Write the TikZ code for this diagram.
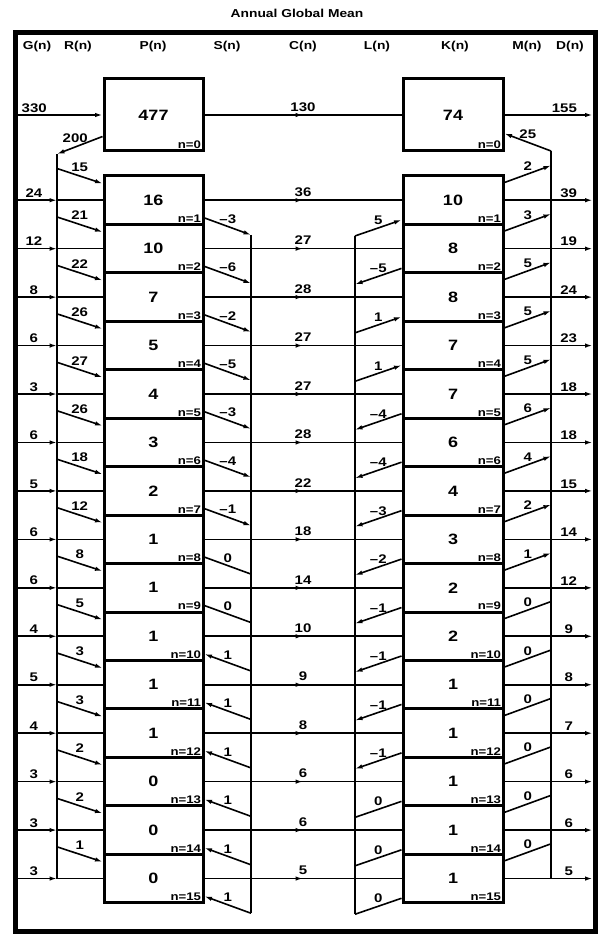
\documentclass[tikz,border=0pt]{standalone}
\usepackage{fontspec}
\setmainfont{Liberation Sans}[FakeStretch=1.2]
\usetikzlibrary{arrows.meta,positioning,calc,decorations.markings}

\newcommand{\sz}[1]{\fontsize{#1}{#1}\selectfont\bfseries}
\newcommand{\flowval}[1]{\ifnum#1<0 \textendash\number-#1\else#1\fi}

\begin{document}
\begin{tikzpicture}[
    x=1pt, y=-1pt,
    outerframe/.style={line width=5pt},
    cell/.style={draw, line width=3pt, outer sep=1.5pt, inner sep=0pt, minimum width=99pt, minimum height=48.45pt, font=\sz{15}},
    topcell/.style={cell, minimum height=72pt},
    nlab/.style={anchor=south east, inner sep=0.5pt, xshift=-2.8pt, yshift=2.8pt, font=\sz{11}},
    head/.style={font=\sz{11.5}},
    lab/.style={font=\sz{12.5}, inner sep=1pt},
    wire/.style={line width=1.6pt},
    fwd/.style={-{Latex[length=7.5pt,width=4.5pt]}},
    rev/.style={{Latex[length=7.5pt,width=4.5pt]}-},
    flow/.style={wire, fwd},
    sgn/.code={\ifnum#1<0 \pgfkeysalso{rev}\else\ifnum#1>0 \pgfkeysalso{fwd}\fi\fi},
    midflow/.style={wire, postaction={decorate}, decoration={markings, mark=at position 0.5 with {\arrow{Latex[length=7.5pt,width=4.5pt]}}}}
  ]
  \useasboundingbox (0,0) rectangle (605,936);
  \coordinate (fl) at (15,33);
  \coordinate (fr) at (592.5,33);
  \coordinate (rl) at (57,154);
  \coordinate (sl) at (251,0);
  \coordinate (ll) at (355,0);
  \coordinate (ml) at (551,151);

  \node[font=\sz{11.5}] (title) at (297,13) {Annual Global Mean};
  \foreach \name/\x in {G/37,R/78,P/153,S/227,C/303,L/377,K/455,M/527,D/570}
    \node[head] (h\name) at (\x,47) {\name(n)};

  \node[topcell] (p0) at (153.5,115) {477};
  \node[topcell, minimum width=100pt] (k0) at (453,115) {74};
  \node[nlab] (pn0) at (p0.south east) {n=0};
  \node[nlab] (kn0) at (k0.south east) {n=0};
  \draw[flow] (p0 -| fl) -- (p0.west) node[lab, pos=0.22, above=1pt] (g0) {330};
  \draw[midflow] (p0.east) -- (k0.west) node[lab, midway, above=2pt] (c0) {130};
  \draw[flow] (k0.east) -- (k0 -| fr) node[lab, pos=0.68, above=1pt] (d0) {155};
  \draw[flow] ($(p0.south west)+(0,-16)$) -- (rl) node[lab, pos=0.6, above=3pt] (r0) {200};
  \draw[flow] (ml) -- ($(k0.south east)+(0,-19)$) node[lab, midway, above=2pt] (m0) {25};

  \foreach \n/\g/\r/\p/\s/\c/\l/\k/\m/\d in {
      1/24/15/16/-3/36/5/10/2/39,
      2/12/21/10/-6/27/-5/8/3/19,
      3/8/22/7/-2/28/1/8/5/24,
      4/6/26/5/-5/27/1/7/5/23,
      5/3/27/4/-3/27/-4/7/5/18,
      6/6/26/3/-4/28/-4/6/6/18,
      7/5/18/2/-1/22/-3/4/4/15,
      8/6/12/1/0/18/-2/3/2/14,
      9/6/8/1/0/14/-1/2/1/12,
      10/4/5/1/1/10/-1/2/0/9,
      11/5/3/1/1/9/-1/1/0/8,
      12/4/3/1/1/8/-1/1/0/7,
      13/3/2/0/1/6/0/1/0/6,
      14/3/2/0/1/6/0/1/0/6,
      15/3/1/0/1/5/0/1/0/5}{
    \node[cell] (p\n) at (153.5,{176+(\n-0.5)*48.45}) {\p};
    \node[cell, minimum width=100pt] (k\n) at (453,{176+(\n-0.5)*48.45}) {\k};
    \node[nlab] (pn\n) at (p\n.south east) {n=\n};
    \node[nlab] (kn\n) at (k\n.south east) {n=\n};
    \draw[flow] (p\n -| fl) -- (p\n -| rl) node[lab, pos=0.45, above=1pt] (g\n) {\g};
    \draw[wire] (p\n -| rl) -- (p\n.west);
    \draw[flow] ($(p\n.north west -| rl)+(0,-6)$) -- ($(p\n.north west)+(0,9)$) node[lab, midway, above=3pt] (r\n) {\r};
    \draw[wire, sgn=\s] ($(p\n.south east -| sl)+(0,9)$) -- ($(p\n.south east)+(0,-8)$) node[lab, midway, above=1.5pt] (s\n) {\flowval{\s}};
    \draw[midflow] (p\n.east) -- (k\n.west) node[lab, midway, above=2pt] (c\n) {\c};
    \draw[wire, sgn=\l] ($(k\n.south west -| ll)+(0,10)$) -- ($(k\n.south west)+(0,-6)$) node[lab, midway, above=1.5pt] (l\n) {\flowval{\l}};
    \draw[wire, sgn=\m] ($(k\n.north east)+(0,8)$) -- ($(k\n.north east -| ml)+(0,-9)$) node[lab, midway, above=1.5pt] (m\n) {\m};
    \draw[flow] (k\n.east) -- (k\n -| fr) node[lab, pos=0.73, above=1pt] (d\n) {\d};
  }

  \draw[wire] (rl) -- (p15 -| rl);
  \draw[wire] ($(p1.south east -| sl)+(0,9)$) -- ($(p15.south east -| sl)+(0,9)$);
  \draw[wire] ($(k1.south west -| ll)+(0,10)$) -- ($(k15.south west -| ll)+(0,10)$);
  \draw[wire] (ml) -- (k15 -| ml);
  \draw[outerframe] (15,33) rectangle (595,931);
\end{tikzpicture}
\end{document}
